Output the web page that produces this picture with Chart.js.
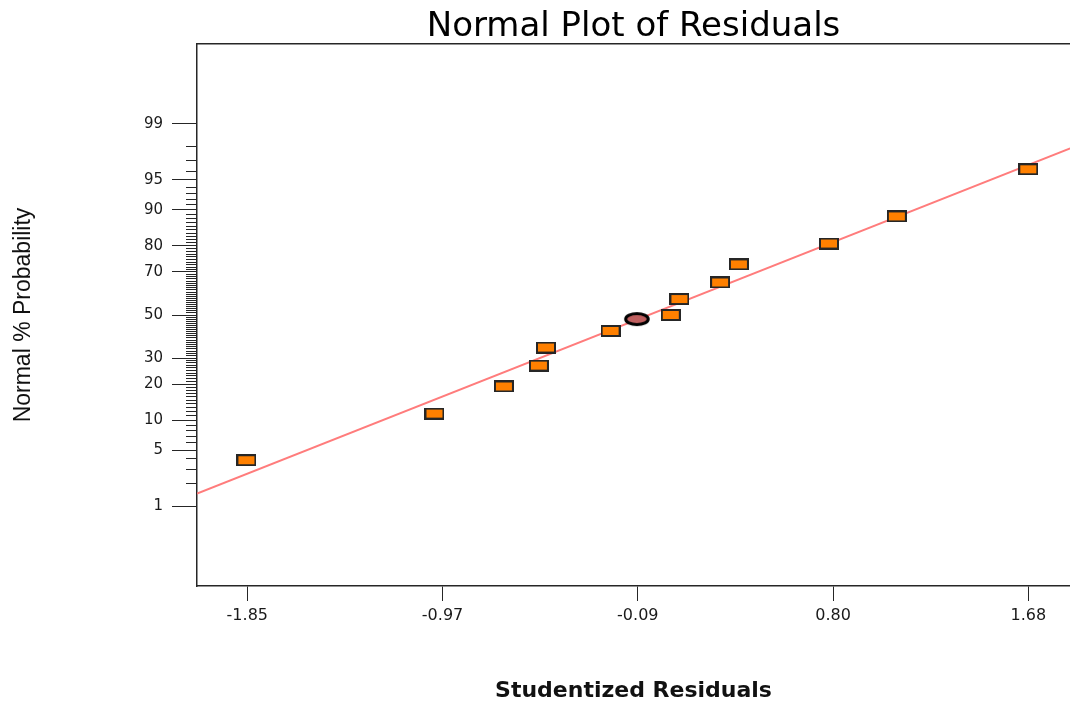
<!DOCTYPE html>
<html>
<head>
<meta charset="utf-8">
<title>Normal Plot of Residuals</title>
<script src="https://cdn.jsdelivr.net/npm/chart.js@4/dist/chart.umd.min.js"></script>
<style>
  html, body { margin: 0; padding: 0; background: #ffffff; }
  #wrap { width: 1070px; height: 702px; }
</style>
</head>
<body>
<div id="wrap"><canvas id="chart" width="1070" height="702"></canvas></div>
<script>
// Studentized residuals (sorted) and their normal % probability
const residuals     = [-1.854, -1.004, -0.690, -0.532, -0.500, -0.208, 0.064, 0.103, 0.287, 0.372, 0.779, 1.086, 1.680];
const probabilities = [3.85, 11.5, 19.2, 26.9, 34.6, 42.3, 50.0, 57.7, 65.4, 73.1, 80.8, 88.5, 96.2];

// Highlighted run
const highlightResidual    = [-0.089];
const highlightProbability = [48.0];

// Reference line through the residuals (end points)
const fitResiduals     = [-2.077, 1.869];
const fitProbabilities = [1.48, 97.88];

// Axis ticks
const xTickValues = [-1.85, -0.9675, -0.085, 0.7975, 1.68];
const xTickLabels = ['-1.85', '-0.97', '-0.09', '0.80', '1.68'];
const xRange = [-2.0773, 1.8685];
const yLabeledPercents = [1, 5, 10, 20, 30, 50, 70, 80, 90, 95, 99];
const yRangeZ = [-3.3, 3.3];

// Inverse of the standard normal CDF (Acklam's rational approximation)
function probit(p) {
  const a = [-3.969683028665376e+01, 2.209460984245205e+02, -2.759285104469687e+02, 1.383577518672690e+02, -3.066479806614716e+01, 2.506628277459239e+00];
  const b = [-5.447609879822406e+01, 1.615858368580409e+02, -1.556989798598866e+02, 6.680131188771972e+01, -1.328068155288572e+01];
  const c = [-7.784894002430293e-03, -3.223964580411365e-01, -2.400758277161838e+00, -2.549732539343734e+00, 4.374664141464968e+00, 2.938163982698783e+00];
  const d = [7.784695709041462e-03, 3.224671290700398e-01, 2.445134137142996e+00, 3.754408661907416e+00];
  const pl = 0.02425, ph = 1 - pl;
  let q, r;
  if (p < pl) {
    q = Math.sqrt(-2 * Math.log(p));
    return (((((c[0]*q+c[1])*q+c[2])*q+c[3])*q+c[4])*q+c[5]) / ((((d[0]*q+d[1])*q+d[2])*q+d[3])*q+1);
  }
  if (p > ph) {
    q = Math.sqrt(-2 * Math.log(1 - p));
    return -(((((c[0]*q+c[1])*q+c[2])*q+c[3])*q+c[4])*q+c[5]) / ((((d[0]*q+d[1])*q+d[2])*q+d[3])*q+1);
  }
  q = p - 0.5; r = q * q;
  return (((((a[0]*r+a[1])*r+a[2])*r+a[3])*r+a[4])*r+a[5])*q / (((((b[0]*r+b[1])*r+b[2])*r+b[3])*r+b[4])*r+1);
}
const toZ = pct => probit(pct / 100);

// Probability tick marks at every whole percent
const yTickPercents = [];
for (let p = 1; p <= 99; p++) yTickPercents.push(p);
const isLabeled = p => yLabeledPercents.includes(p);

// Marker images
function rectMarker() {
  const c = document.createElement('canvas');
  c.width = 20; c.height = 12;
  const g = c.getContext('2d');
  g.fillStyle = '#FF8000';
  g.fillRect(1, 1, 18, 10);
  g.strokeStyle = '#262626';
  g.lineWidth = 2;
  g.strokeRect(1, 1, 18, 10);
  return c;
}
function ellipseMarker() {
  const c = document.createElement('canvas');
  c.width = 28; c.height = 16;
  const g = c.getContext('2d');
  g.beginPath();
  g.ellipse(14, 8, 11.3, 5.6, 0, 0, Math.PI * 2);
  g.fillStyle = '#BF5F5F';
  g.fill();
  g.strokeStyle = '#000000';
  g.lineWidth = 3;
  g.stroke();
  return c;
}

const pointData = residuals.map((x, i) => ({ x: x, y: toZ(probabilities[i]) }));
const highlightData = highlightResidual.map((x, i) => ({ x: x, y: toZ(highlightProbability[i]) }));
const fitData = fitResiduals.map((x, i) => ({ x: x, y: toZ(fitProbabilities[i]) }));

// Axes keep their full extent: no extra room reserved for edge labels
const noEdgePadding = s => { s.paddingLeft = 0; s.paddingRight = 0; s.paddingTop = 0; s.paddingBottom = 0; };

Chart.defaults.font.family = "'DejaVu Sans', sans-serif";
Chart.defaults.color = '#1a1a1a';

new Chart(document.getElementById('chart'), {
  type: 'scatter',
  data: {
    datasets: [
      {
        type: 'line',
        label: 'fit',
        data: fitData,
        borderColor: '#FF7C7C',
        borderWidth: 2,
        pointRadius: 0,
        fill: false,
        order: 3
      },
      {
        label: 'residuals',
        data: pointData,
        pointStyle: rectMarker(),
        pointRadius: 6,
        order: 2
      },
      {
        label: 'highlight',
        data: highlightData,
        pointStyle: ellipseMarker(),
        pointRadius: 6,
        order: 1
      }
    ]
  },
  options: {
    responsive: false,
    animation: false,
    events: [],
    layout: { autoPadding: false, padding: { left: 0, right: 0, top: 0, bottom: 0 } },
    plugins: {
      legend: { display: false },
      tooltip: { enabled: false },
      title: {
        display: true,
        text: 'Normal Plot of Residuals',
        fullSize: false,
        color: '#000000',
        font: { family: "'DejaVu Sans', sans-serif", size: 34, weight: 'normal', lineHeight: 1.0 },
        padding: { top: 10, bottom: 0 }
      }
    },
    scales: {
      x: {
        type: 'linear',
        position: 'bottom',
        min: xRange[0],
        max: xRange[1],
        afterBuildTicks: s => { s.ticks = xTickValues.map(v => ({ value: v })); },
        afterFit: s => { s.height = 116; noEdgePadding(s); },
        ticks: {
          autoSkip: false,
          maxRotation: 0,
          padding: 5,
          color: '#1a1a1a',
          font: { size: 16, lineHeight: 1.2 },
          callback: (v, i) => xTickLabels[i]
        },
        grid: {
          drawOnChartArea: false,
          drawTicks: true,
          tickLength: 15,
          tickColor: '#262626',
          tickWidth: 1
        },
        border: { display: true, color: '#262626', width: 1.5 },
        title: {
          display: true,
          text: 'Studentized Residuals',
          color: '#111111',
          font: { family: "'DejaVu Sans', sans-serif", size: 22, weight: 'bold', lineHeight: 1 },
          padding: { top: 0, bottom: 0 }
        }
      },
      xTop: {
        type: 'linear',
        position: 'top',
        min: xRange[0],
        max: xRange[1],
        afterFit: s => { s.height = 0; noEdgePadding(s); },
        ticks: { display: false },
        grid: { drawOnChartArea: false, drawTicks: false },
        border: { display: true, color: '#262626', width: 1.5 }
      },
      y: {
        type: 'linear',
        position: 'left',
        min: yRangeZ[0],
        max: yRangeZ[1],
        afterBuildTicks: s => { s.ticks = yTickPercents.map(p => ({ value: toZ(p) })); },
        afterFit: s => { s.width = 197; noEdgePadding(s); },
        ticks: {
          autoSkip: false,
          padding: 9,
          color: '#1a1a1a',
          font: { size: 15, lineHeight: 1.2 },
          callback: (v, i) => (isLabeled(yTickPercents[i]) ? String(yTickPercents[i]) : '')
        },
        grid: {
          drawOnChartArea: false,
          drawTicks: true,
          tickLength: 25,
          tickColor: '#262626',
          tickWidth: 1,
          // short marks for the unlabeled percents
          tickBorderDash: ctx => (isLabeled(yTickPercents[ctx.index]) ? [] : [0, 14, 12, 30])
        },
        border: { display: true, color: '#262626', width: 1.5 },
        title: {
          display: true,
          text: 'Normal % Probability',
          color: '#111111',
          font: { family: "'Liberation Sans', Arial, sans-serif", size: 23, weight: 'normal', lineHeight: 1 },
          padding: { top: 12, bottom: 0 }
        }
      }
    }
  }
});
</script>
</body>
</html>
